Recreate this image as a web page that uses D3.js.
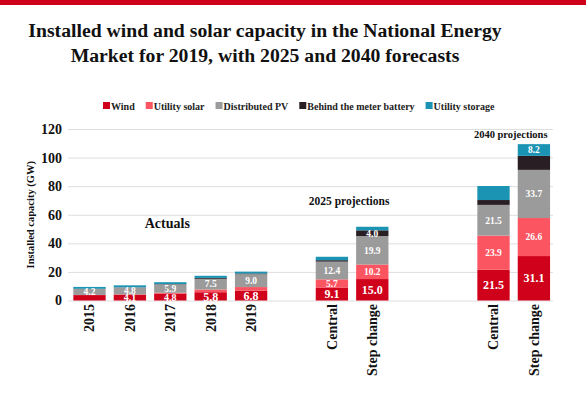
<!DOCTYPE html>
<html>
<head>
<meta charset="utf-8">
<script src="https://cdn.jsdelivr.net/npm/d3@7"></script>
<style>
  body { margin: 0; background: #fff; }
  text { font-family: "Liberation Serif", "Times New Roman", serif; font-weight: bold; }
</style>
</head>
<body>
<div id="container-chart"></div>
<script>
// categories (bars) and their axis labels
const categories = ["2015", "2016", "2017", "2018", "2019", "Central 2025", "Step change 2025", "Central 2040", "Step change 2040"];
const tickLabels = ["2015", "2016", "2017", "2018", "2019", "Central", "Step change", "Central", "Step change"];
// slots on the x axis, with empty ones between the groups
const slots = ["2015", "2016", "2017", "2018", "2019", "gap1", "Central 2025", "Step change 2025", "gap2", "gap3", "Central 2040", "Step change 2040"];

const seriesNames = ["Wind", "Utility solar", "Distributed PV", "Behind the meter battery", "Utility storage"];
const seriesColors = ["#d0021b", "#fb5562", "#9b9b9b", "#2a1e25", "#1b93b3"];

// GW
const wind           = [3.8, 4.1, 4.8, 5.8, 6.8, 9.1, 15.0, 21.5, 31.1];
const utilitySolar   = [0.1, 0.2, 0.6, 1.9, 2.6, 5.7, 10.2, 23.9, 26.6];
const distributedPV  = [4.2, 4.8, 5.9, 7.5, 9.0, 12.4, 19.9, 21.5, 33.7];
const btmBattery     = [0.1, 0.1, 0.2, 0.6, 0.5, 1.0, 4.0, 3.4, 9.8];
const utilityStorage = [1.3, 1.4, 1.3, 1.5, 1.3, 2.4, 2.5, 9.8, 8.2];

// which segments carry a value label (1 = yes)
const windLabel    = [0, 1, 1, 1, 1, 1, 1, 1, 1];
const solarLabel   = [0, 0, 0, 0, 0, 1, 1, 1, 1];
const pvLabel      = [1, 1, 1, 1, 1, 1, 1, 1, 1];
const btmLabel     = [0, 0, 0, 0, 0, 0, 1, 0, 0];
const storageLabel = [0, 0, 0, 0, 0, 0, 0, 0, 1];

const yTicks = [0, 20, 40, 60, 80, 100, 120];

const titleLines = ["Installed wind and solar capacity in the National Energy", "Market for 2019, with 2025 and 2040 forecasts"];
const notes = [
  { text: "Actuals", from: "2017", to: "2017", value: 51, size: 14 },
  { text: "2025 projections", from: "Central 2025", to: "Step change 2025", value: 66.5, size: 11.5 },
  { text: "2040 projections", from: "Central 2040", to: "Step change 2040", value: 113.5, size: 10.5 }
];

const values = [wind, utilitySolar, distributedPV, btmBattery, utilityStorage];
const labelFlags = [windLabel, solarLabel, pvLabel, btmLabel, storageLabel];

// table for the stack
const table = categories.map((c, i) => {
  const row = { cat: c };
  seriesNames.forEach((s, j) => row[s] = values[j][i]);
  return row;
});

const W = 586, H = 394;
const svg = d3.select("#container-chart").append("svg")
  .attr("width", W).attr("height", H);

// red strip on top
svg.append("rect").attr("x", 0).attr("y", 0).attr("width", W).attr("height", 5).attr("fill", "#d0021b");

// title
svg.append("g").selectAll("text")
  .data(titleLines)
  .enter().append("text")
  .attr("x", 265)
  .attr("y", (d, i) => 37 + i * 25)
  .attr("text-anchor", "middle")
  .style("font-size", "19.7px")
  .attr("fill", "#111")
  .text(d => d);

const x = d3.scaleBand()
  .domain(slots)
  .range([69.3, 554.1])
  .paddingInner(0.2)
  .paddingOuter(0.1);

const y = d3.scaleLinear()
  .domain([0, 120])
  .range([300.5, 129]);

// grid + y axis
const yAxis = svg.append("g")
  .attr("transform", "translate(68,0)")
  .call(d3.axisLeft(y).tickValues(yTicks).tickSize(-485).tickPadding(6));
yAxis.select(".domain").remove();
yAxis.selectAll(".tick line").attr("stroke", "#dedede");
yAxis.selectAll(".tick text")
  .style("font-size", "14px")
  .style("font-family", "Liberation Serif, serif")
  .style("font-weight", "bold")
  .attr("fill", "#111");

svg.append("text")
  .attr("transform", `translate(34, ${y(60)}) rotate(-90)`)
  .attr("text-anchor", "middle")
  .style("font-size", "10.5px")
  .attr("fill", "#111")
  .text("Installed capacity (GW)");

// stacked bars
const stacked = d3.stack().keys(seriesNames)(table);

const layers = svg.append("g").selectAll("g")
  .data(stacked)
  .enter().append("g")
  .attr("fill", (d, j) => seriesColors[j]);

layers.selectAll("rect")
  .data(d => d)
  .enter().append("rect")
  .attr("x", d => x(d.data.cat))
  .attr("width", x.bandwidth())
  .attr("y", d => y(d[1]))
  .attr("height", d => y(d[0]) - y(d[1]));

// value labels
stacked.forEach((layer, j) => {
  svg.append("g").selectAll("text")
    .data(layer.filter((d, i) => labelFlags[j][i]))
    .enter().append("text")
    .attr("x", d => x(d.data.cat) + x.bandwidth() / 2)
    .attr("y", d => (y(d[0]) + y(d[1])) / 2)
    .attr("dy", "0.35em")
    .attr("text-anchor", "middle")
    .attr("fill", "#fff")
    .style("font-size", j === 0 ? (d => (d[1] - d[0] < 5 ? "10px" : "12px")) : "9.5px")
    .text(d => d3.format(".1f")(d[1] - d[0]));
});

// x labels
svg.append("g").selectAll("text")
  .data(categories)
  .enter().append("text")
  .attr("transform", d => `translate(${x(d) + x.bandwidth() / 2}, 304) rotate(-90)`)
  .attr("text-anchor", "end")
  .attr("dy", "0.35em")
  .style("font-size", "14px")
  .attr("fill", "#111")
  .text((d, i) => tickLabels[i]);

// group notes
svg.append("g").selectAll("text")
  .data(notes)
  .enter().append("text")
  .attr("x", d => (x(d.from) + x(d.to) + x.bandwidth()) / 2 - 3)
  .attr("y", d => y(d.value))
  .attr("text-anchor", "middle")
  .style("font-size", d => d.size + "px")
  .attr("fill", "#111")
  .text(d => d.text);

// legend
const legend = svg.append("g").attr("transform", "translate(103,106)");
let lx = 0;
seriesNames.forEach((s, j) => {
  legend.append("rect")
    .attr("x", lx).attr("y", -4).attr("width", 7).attr("height", 7)
    .attr("fill", seriesColors[j]);
  const t = legend.append("text")
    .attr("x", lx + 8).attr("y", 3.5)
    .style("font-size", "10px")
    .attr("fill", "#222")
    .text(s);
  lx += 8 + t.node().getComputedTextLength() + 11;
});

// source line, cut by the bottom edge as in the original
svg.append("text")
  .attr("x", 20).attr("y", 401)
  .style("font-size", "11px")
  .attr("fill", "#bbb")
  .text("Source: Australian Energy Market Operator");
</script>
</body>
</html>
